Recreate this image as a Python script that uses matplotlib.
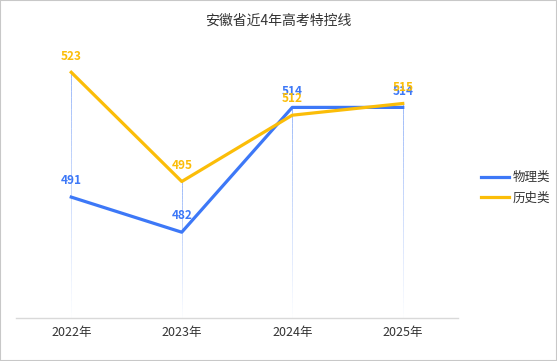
import numpy as np
import matplotlib
matplotlib.use('Agg')
import matplotlib.pyplot as plt
from matplotlib.patches import Rectangle

plt.rcParams['font.family'] = ['Noto Sans CJK SC', 'DejaVu Sans']

years = ['2022年', '2023年', '2024年', '2025年']
physics = [491, 482, 514, 514]
history = [523, 495, 512, 515]
series_names = ['物理类', '历史类']
colors = ['#3d78f7', '#fbbd08']

fig = plt.figure(figsize=(5.57, 3.61), dpi=100)
ax = fig.add_axes([16/557, 43/361, 442/557, 312/361])
x = np.arange(len(years))

# drop lines from each category's max, fading to the axis
ymin, ymax = 460, 540
for i in x:
    top = max(physics[i], history[i])
    n = 40
    ys = np.linspace(top, ymin, n + 1)
    for k in range(n):
        a = 0.6 * (1 - k / n)
        ax.plot([i, i], [ys[k], ys[k+1]], color='#5b8cf5', lw=0.7, alpha=a,
                solid_capstyle='butt', zorder=1)

for vals, name, c, z in [(physics, series_names[0], colors[0], 3),
                          (history, series_names[1], colors[1], 4)]:
    ax.plot(x, vals, color=c, lw=2.3, label=name, zorder=z)
    for xi, v in zip(x, vals):
        ax.annotate(str(v), (xi, v), xytext=(0, 7), textcoords='offset points',
                    ha='center', va='bottom', color=c, fontsize=8.5,
                    fontweight='bold', zorder=z + 2)

ax.set_xlim(-0.5, 3.5)
ax.set_ylim(ymin, ymax)
ax.set_xticks(x)
ax.set_xticklabels(years, fontsize=9, color='#333333')
ax.tick_params(axis='x', length=0, pad=6)
ax.set_yticks([])
for s in ['top', 'right', 'left']:
    ax.spines[s].set_visible(False)
ax.spines['bottom'].set_color('#d9d9d9')
ax.spines['bottom'].set_linewidth(1)

fig.text(0.5, 1 - 21/361, '安徽省近4年高考特控线', ha='center', va='center',
         fontsize=10, color='#333333')

leg = fig.legend(loc='center left', bbox_to_anchor=(470/557, 1 - 188/361),
                 frameon=False, fontsize=9, handlelength=2.2, handletextpad=0.3,
                 labelspacing=0.6)
for t in leg.get_texts():
    t.set_color('#333333')

fig.patches.append(Rectangle((0, 0), 1, 1, transform=fig.transFigure,
                             fill=False, edgecolor='#c8c8c8', lw=1.5))

fig.savefig('out.png', dpi=100)
